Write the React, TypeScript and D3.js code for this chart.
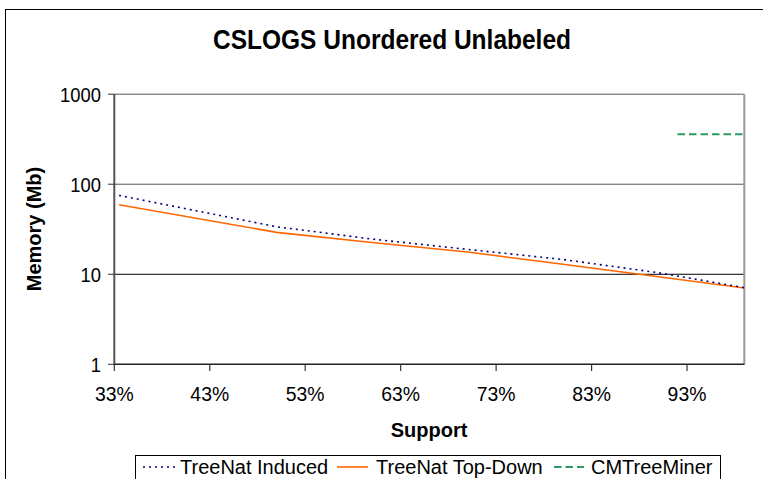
import React from "react";
import * as d3 from "d3";

const supportInduced = [33.5, 50, 60, 70, 80, 90, 99];
const memInduced = [75.1, 33.7, 24.6, 18.9, 14.6, 10.4, 7.1];
const supportTopDown = [33.5, 50, 60, 70, 80, 90, 99];
const memTopDown = [59.1, 29.2, 22.5, 17.7, 12.9, 9.4, 7.03];
const supportCM = [92, 99];
const memCM = [360, 360];
const xTicks = [33, 43, 53, 63, 73, 83, 93];
const yTicks = [1, 10, 100, 1000];

const FONT = "'Liberation Sans', Arial, Helvetica, sans-serif";

export default function App() {
  const x = d3.scaleLinear().domain([33, 99]).range([114.3, 744.3]);
  const y = d3.scaleLog().domain([1, 1000]).range([364.3, 94.2]);
  const line = d3
    .line<[number, number]>()
    .x((d) => x(d[0]))
    .y((d) => y(d[1]));
  const zip = (a: number[], b: number[]) => a.map((v, i) => [v, b[i]] as [number, number]);

  return (
    <svg
      width={763}
      height={479}
      style={{ position: "absolute", left: 0, top: 0, background: "#fff" }}
      fontFamily={FONT}
    >
      <rect x={0} y={0} width={763} height={479} fill="#fff" />
      {/* outer chart border */}
      <rect x={5.5} y={9.5} width={800} height={500} fill="none" stroke="#000" strokeWidth={1} />
      {/* title */}
      <text
        transform="translate(392,49) scale(1,1.1)"
        textAnchor="middle"
        fontSize={25}
        fontWeight="bold"
        textLength={358}
        lengthAdjust="spacingAndGlyphs"
      >
        CSLOGS Unordered Unlabeled
      </text>
      {/* gridlines */}
      {yTicks.slice(1).map((t) => (
        <line key={"g" + t} x1={114.3} x2={744.3} y1={y(t)} y2={y(t)} stroke={t === 10 ? "#000" : "#555"} strokeWidth={1} />
      ))}
      {/* right border */}
      <line x1={744.3} x2={744.3} y1={94.2} y2={365} stroke="#999" strokeWidth={2} />
      {/* y axis */}
      <line x1={114.3} x2={114.3} y1={94.2} y2={365} stroke="#555" strokeWidth={2} />
      {yTicks.map((t) => (
        <g key={"y" + t}>
          <line x1={108} x2={114.3} y1={y(t)} y2={y(t)} stroke="#333" strokeWidth={1} />
          <text transform={`translate(101,${y(t) + 7.5}) scale(0.92,1.05)`} textAnchor="end" fontSize={20}>
            {t}
          </text>
        </g>
      ))}
      {/* x axis */}
      <line x1={114.3} x2={744.3} y1={364.3} y2={364.3} stroke="#222" strokeWidth={1.5} />
      {xTicks.map((t) => (
        <g key={"x" + t}>
          <line x1={x(t)} x2={x(t)} y1={364.3} y2={371} stroke="#333" strokeWidth={1.2} />
          <text transform={`translate(${x(t)},401) scale(0.97,1.05)`} textAnchor="middle" fontSize={20}>
            {t}%
          </text>
        </g>
      ))}
      {/* axis titles */}
      <text transform="translate(429,437) scale(1,1.05)" textAnchor="middle" fontSize={20} fontWeight="bold">
        Support
      </text>
      <text
        transform="translate(41,229) rotate(-90)"
        textAnchor="middle"
        fontSize={20}
        fontWeight="bold"
      >
        Memory (Mb)
      </text>
      {/* series */}
      <path d={line(zip(supportTopDown, memTopDown)) || ""} fill="none" stroke="#FF6600" strokeWidth={1.6} />
      <path d={line(zip(supportInduced, memInduced)) || ""} fill="none" stroke="#000080" strokeWidth={1.6} strokeDasharray="2,4" />
      <path d={line(zip(supportCM, memCM)) || ""} fill="none" stroke="#2E9A63" strokeWidth={2} strokeDasharray="7.5,4" />
      {/* legend */}
      <rect x={135.5} y={455.5} width={585} height={40} fill="#fff" stroke="#000" strokeWidth={1} />
      <line x1={143} x2={175} y1={467} y2={467} stroke="#000080" strokeWidth={1.6} strokeDasharray="2,4" />
      <text x={180} y={474} fontSize={20}>TreeNat Induced</text>
      <line x1={337} x2={368} y1={467} y2={467} stroke="#FF6600" strokeWidth={1.6} />
      <text x={376} y={474} fontSize={20}>TreeNat Top-Down</text>
      <line x1={554} x2={584} y1={467} y2={467} stroke="#2E9A63" strokeWidth={2} strokeDasharray="7.5,4" />
      <text x={591} y={474} fontSize={20}>CMTreeMiner</text>
    </svg>
  );
}
